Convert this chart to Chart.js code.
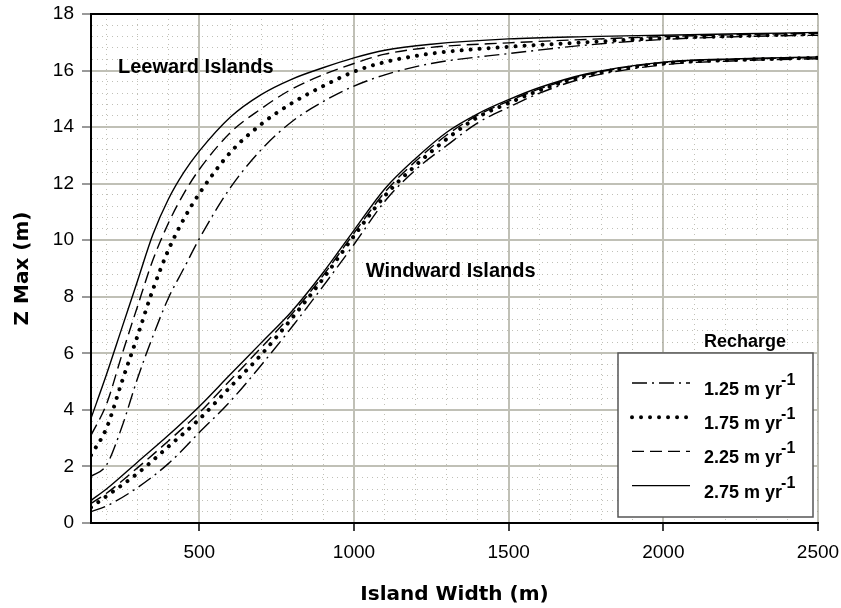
<!DOCTYPE html>
<html>
<head>
<meta charset="utf-8">
<title>Z Max vs Island Width</title>
<script src="https://cdn.jsdelivr.net/npm/chart.js@4.4.1/dist/chart.umd.min.js"></script>
<style>
  html, body { margin: 0; padding: 0; background: #fff; }
  #wrap { width: 841px; height: 608px; position: relative; }
</style>
</head>
<body>
<div id="wrap"><canvas id="zmaxChart"></canvas></div>
<script>
// ============================================================================
// DATA
// ============================================================================

const rechargeRates = ['1.25', '1.75', '2.25', '2.75']; // m yr-1

// Leeward islands
const leewardWidth = [150, 200, 250, 300, 350, 400, 450, 500, 600, 700, 800, 900, 1000, 1100, 1250, 1500, 1750, 2000, 2250, 2500];
const leeward125 = [1.65, 2.05, 3.4, 5.1, 6.6, 7.95, 9.0, 10.05, 11.85, 13.2, 14.2, 14.9, 15.45, 15.85, 16.25, 16.6, 16.9, 17.1, 17.2, 17.25];
const leeward175 = [2.4, 3.35, 5.0, 6.6, 8.25, 9.65, 10.75, 11.65, 13.1, 14.1, 14.85, 15.45, 15.96, 16.3, 16.6, 16.84, 17.0, 17.15, 17.22, 17.3];
const leeward225 = [3.1, 4.2, 5.95, 7.65, 9.3, 10.6, 11.65, 12.5, 13.8, 14.65, 15.35, 15.85, 16.25, 16.58, 16.82, 16.98, 17.1, 17.2, 17.27, 17.32];
const leeward275 = [3.7, 5.25, 6.9, 8.55, 10.2, 11.45, 12.4, 13.15, 14.35, 15.15, 15.7, 16.1, 16.45, 16.72, 16.93, 17.12, 17.2, 17.25, 17.3, 17.35];

// Windward islands
const windwardWidth = [150, 200, 300, 400, 500, 600, 700, 800, 900, 1000, 1100, 1200, 1300, 1400, 1500, 1600, 1750, 2000, 2250, 2500];
const windward125 = [0.4, 0.6, 1.25, 2.1, 3.2, 4.3, 5.58, 6.94, 8.37, 9.85, 11.38, 12.5, 13.35, 14.15, 14.7, 15.2, 15.75, 16.2, 16.35, 16.42];
const windward175 = [0.55, 0.95, 1.75, 2.7, 3.67, 4.81, 5.95, 7.25, 8.64, 10.15, 11.57, 12.65, 13.58, 14.35, 14.85, 15.3, 15.82, 16.25, 16.38, 16.45];
const windward225 = [0.69, 1.05, 1.95, 2.9, 3.9, 5.05, 6.2, 7.4, 8.75, 10.25, 11.7, 12.8, 13.72, 14.42, 14.92, 15.35, 15.85, 16.28, 16.4, 16.46];
const windward275 = [0.8, 1.2, 2.15, 3.1, 4.12, 5.25, 6.37, 7.5, 8.85, 10.35, 11.82, 12.9, 13.82, 14.47, 14.97, 15.4, 15.88, 16.3, 16.42, 16.48];

// Labelled (major) ticks
const xTickLabels = [500, 1000, 1500, 2000, 2500];
const yTickLabels = [0, 2, 4, 6, 8, 10, 12, 14, 16, 18];

// Text placed on the plot (anchored in data units)
const islandLabels = [
    { text: 'Leeward Islands', x: 237, y: 15.9 },
    { text: 'Windward Islands', x: 1038, y: 8.7 }
];

// ============================================================================
// STYLES
// ============================================================================

const lineStyles = {
    '1.25': { dash: [15, 5, 2, 5], width: 1.4, cap: 'butt' },  // dash-dot
    '1.75': { dash: [0.01, 9], width: 4, cap: 'round' },       // heavy dots
    '2.25': { dash: [12, 6], width: 1.4, cap: 'butt' },        // dashed
    '2.75': { dash: [], width: 1.4, cap: 'butt' }              // solid
};

const FONT = '"Liberation Sans", Arial, sans-serif';
const MAJOR_GRID = '#c0c0b6';
const MINOR_GRID = 'rgba(150, 150, 135, 0.6)';

function points(xs, ys) {
    return xs.map((x, i) => ({ x: x, y: ys[i] }));
}

function isMajor(values, v) {
    const r = Math.round(v * 10) / 10;
    return values.includes(r);
}

function makeDataset(label, data, rate) {
    const st = lineStyles[rate];
    return {
        label: label,
        data: data,
        borderColor: '#000',
        borderWidth: st.width,
        borderDash: st.dash,
        borderCapStyle: st.cap,
        pointRadius: 0,
        fill: false,
        cubicInterpolationMode: 'monotone'
    };
}

const leewardSeries = [leeward125, leeward175, leeward225, leeward275];
const windwardSeries = [windward125, windward175, windward225, windward275];

const datasets = [];
rechargeRates.forEach((rate, i) => {
    datasets.push(makeDataset('Leeward ' + rate, points(leewardWidth, leewardSeries[i]), rate));
    datasets.push(makeDataset('Windward ' + rate, points(windwardWidth, windwardSeries[i]), rate));
});

// ============================================================================
// PLUGINS
// ============================================================================

// Black frame line along the top of the plot area
const topFrame = {
    id: 'topFrame',
    afterDatasetsDraw(chart) {
        const { ctx, chartArea } = chart;
        ctx.save();
        ctx.strokeStyle = '#000';
        ctx.lineWidth = 2;
        ctx.beginPath();
        ctx.moveTo(chartArea.left, chartArea.top);
        ctx.lineTo(chartArea.right, chartArea.top);
        ctx.stroke();
        ctx.restore();
    }
};

// "Leeward Islands" / "Windward Islands"
const islandText = {
    id: 'islandText',
    afterDatasetsDraw(chart) {
        const { ctx, scales } = chart;
        ctx.save();
        ctx.fillStyle = '#000';
        ctx.font = 'bold 20px ' + FONT;
        ctx.textAlign = 'left';
        ctx.textBaseline = 'alphabetic';
        islandLabels.forEach(l => {
            ctx.fillText(l.text, scales.x.getPixelForValue(l.x), scales.y.getPixelForValue(l.y));
        });
        ctx.restore();
    }
};

// Boxed recharge legend with superscript units
const rechargeLegend = {
    id: 'rechargeLegend',
    afterDraw(chart) {
        const { ctx, chartArea } = chart;
        const w = 195, h = 164;
        const x0 = chartArea.right - 200;
        const y0 = chartArea.bottom - 170;

        ctx.save();
        ctx.fillStyle = '#fff';
        ctx.fillRect(x0, y0, w, h);
        ctx.strokeStyle = '#555';
        ctx.lineWidth = 1.5;
        ctx.strokeRect(x0, y0, w, h);

        ctx.fillStyle = '#000';
        ctx.font = 'bold 18px ' + FONT;
        ctx.textAlign = 'center';
        ctx.textBaseline = 'alphabetic';
        ctx.fillText('Recharge', x0 + 127, y0 - 6);

        rechargeRates.forEach((rate, i) => {
            const st = lineStyles[rate];
            const ly = y0 + 30 + i * 34.2;
            ctx.save();
            ctx.beginPath();
            ctx.setLineDash(st.dash);
            ctx.lineWidth = st.width;
            ctx.lineCap = st.cap;
            ctx.strokeStyle = '#000';
            ctx.moveTo(x0 + 14, ly);
            ctx.lineTo(x0 + 72, ly);
            ctx.stroke();
            ctx.restore();

            const main = rate + ' m yr';
            ctx.textAlign = 'left';
            ctx.font = 'bold 18px ' + FONT;
            ctx.fillText(main, x0 + 86, ly + 12);
            const mw = ctx.measureText(main).width;
            ctx.font = 'bold 16px ' + FONT;
            ctx.fillText('-1', x0 + 86 + mw - 1, ly + 2);
        });
        ctx.restore();
    }
};

// ============================================================================
// CHART
// ============================================================================

const canvas = document.getElementById('zmaxChart');
const chart = new Chart(canvas.getContext('2d'), {
    type: 'line',
    data: { datasets: datasets },
    options: {
        responsive: true,
        maintainAspectRatio: false,
        animation: false,
        layout: { padding: { top: 14, right: 23, bottom: 0, left: 0 } },
        plugins: {
            legend: { display: false },
            tooltip: { enabled: false }
        },
        scales: {
            x: {
                type: 'linear',
                min: 150,
                max: 2500,
                afterFit: scale => {
                    scale.height = 85;
                    scale.paddingLeft = 0;
                    scale.paddingRight = 0;
                },
                ticks: {
                    stepSize: 100,
                    includeBounds: false,
                    autoSkip: false,
                    maxRotation: 0,
                    minRotation: 0,
                    padding: 10,
                    color: '#000',
                    font: { family: FONT, size: 19 },
                    callback: v => (xTickLabels.includes(v) ? String(v) : '')
                },
                grid: {
                    color: c => (c.tick && isMajor(xTickLabels, c.tick.value) ? MAJOR_GRID : MINOR_GRID),
                    lineWidth: c => (c.tick && isMajor(xTickLabels, c.tick.value) ? 2 : 1),
                    tickLength: 8,
                    tickWidth: 1.5,
                    tickColor: c => (c.tick && isMajor(xTickLabels, c.tick.value) ? '#000' : 'rgba(0,0,0,0)')
                },
                border: {
                    color: '#000',
                    width: 2,
                    dash: c => (c.tick && !isMajor(xTickLabels, c.tick.value) ? [1, 4] : [])
                },
                title: {
                    display: true,
                    text: 'Island Width (m)',
                    color: '#000',
                    font: { family: '"DejaVu Sans", sans-serif', weight: 'bold', size: 20, lineHeight: 1.2 },
                    padding: { top: 0, bottom: 1 }
                }
            },
            y: {
                type: 'linear',
                min: 0,
                max: 18,
                afterFit: scale => {
                    scale.width = 91;
                    scale.paddingTop = 0;
                    scale.paddingBottom = 0;
                },
                ticks: {
                    stepSize: 0.4,
                    autoSkip: false,
                    padding: 8,
                    color: '#000',
                    font: { family: FONT, size: 19 },
                    callback: v => (isMajor(yTickLabels, v) ? String(Math.round(v)) : '')
                },
                grid: {
                    color: c => (c.tick && isMajor(yTickLabels, c.tick.value) ? MAJOR_GRID : MINOR_GRID),
                    lineWidth: c => (c.tick && isMajor(yTickLabels, c.tick.value) ? 2 : 1),
                    tickLength: 9,
                    tickWidth: 1.5,
                    tickColor: c => (c.tick && isMajor(yTickLabels, c.tick.value) ? '#777' : 'rgba(0,0,0,0)')
                },
                border: {
                    color: '#000',
                    width: 2,
                    dash: c => (c.tick && !isMajor(yTickLabels, c.tick.value) ? [1, 4] : [])
                },
                title: {
                    display: true,
                    text: 'Z Max (m)',
                    color: '#000',
                    font: { family: '"DejaVu Sans", sans-serif', weight: 'bold', size: 20, lineHeight: 1.2 },
                    padding: { top: 11, bottom: 0 }
                }
            }
        }
    },
    plugins: [topFrame, islandText, rechargeLegend]
});
</script>
</body>
</html>
